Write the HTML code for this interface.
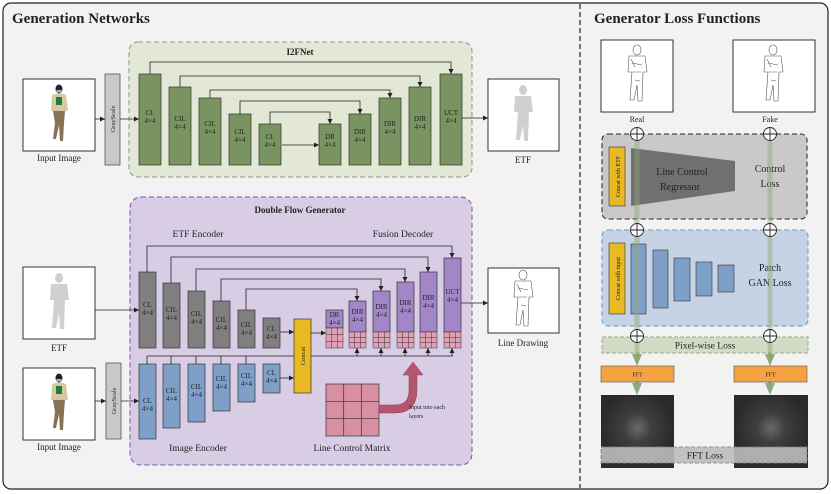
<!DOCTYPE html>
<html><head><meta charset="utf-8"><style>
html,body{margin:0;padding:0;background:#fff}
svg{display:block}
text{font-family:"Liberation Serif",serif;fill:#222}
.b{font-size:7px;text-anchor:middle}
</style></head><body>
<svg width="831" height="494" viewBox="0 0 831 494" xmlns="http://www.w3.org/2000/svg">
<defs>
<marker id="a" markerWidth="6" markerHeight="6" refX="5" refY="3" orient="auto" markerUnits="userSpaceOnUse"><path d="M0,0.5 L5,3 L0,5.5z" fill="#222"/></marker>
<marker id="g" markerWidth="12" markerHeight="10" refX="6" refY="5" orient="auto" markerUnits="userSpaceOnUse"><path d="M0,0 L12,5 L0,10z" fill="#8fa878"/></marker>
<radialGradient id="fft" cx="0.5" cy="0.45" r="0.5"><stop offset="0" stop-color="#6a6a6a"/><stop offset="0.4" stop-color="#3e3e3e"/><stop offset="1" stop-color="#2a2a2a"/></radialGradient>
<g id="person">
<ellipse cx="0" cy="-26" rx="3.5" ry="4.5" fill="#222"/>
<rect x="-2.5" y="-25" width="5" height="2.5" fill="#9fb4c8"/>
<path d="M-7,-20 Q0,-23 7,-20 L9,-4 L-8,-4z" fill="#d8c8a2"/>
<rect x="-3" y="-18" width="6" height="8" fill="#1f7a46"/>
<path d="M-6,-4 L6,-4 L5,8 L4,26 L1,26 L0,10 L-3,24 L-6,24 L-4,8z" fill="#8a7056"/>
</g>
<g id="sil">
<ellipse cx="0" cy="-25" rx="4" ry="5" fill="#d0d0d0"/>
<path d="M-8,-19 L8,-19 L10,-3 L6,-3 L5,26 L1,26 L0,10 L-3,25 L-7,25 L-5,-3 L-9,-3z" fill="#d0d0d0"/>
</g>
<g id="line" fill="none" stroke="#555" stroke-width="0.6">
<ellipse cx="0" cy="-25" rx="4" ry="5"/>
<path d="M-8,-19 L8,-19 L10,-3 L6,-3 L5,26 L1,26 L0,10 L-3,25 L-7,25 L-5,-3 L-9,-3z"/>
<path d="M-5,-12 L5,-10 M-4,-3 L4,-3 M-2,5 L3,6 M-6,-16 L-2,-8"/>
</g>
</defs>

<rect x="3" y="3" width="825" height="486" rx="8" fill="#f2f2f2" stroke="#222" stroke-width="1.2"/>
<line x1="580" y1="4" x2="580" y2="488" stroke="#222" stroke-width="1.2" stroke-dasharray="5,3"/>
<text x="12" y="23" style="font-size:15px;font-weight:bold">Generation Networks</text>
<text x="594" y="23" style="font-size:15px;font-weight:bold">Generator Loss Functions</text>

<!-- I2FNet -->
<rect x="129" y="42" width="343" height="135" rx="9" fill="#e2e7d6" stroke="#8a9a7a" stroke-dasharray="5,3"/>
<text x="300" y="55" style="font-size:9px;font-weight:bold;text-anchor:middle">I2FNet</text>
<rect x="23" y="79" width="72" height="72" fill="#fff" stroke="#333"/>
<use href="#person" x="59" y="115"/>
<text x="59" y="161" style="font-size:9px;text-anchor:middle">Input Image</text>
<rect x="105" y="74" width="15" height="91" fill="#c8c8c8" stroke="#444" stroke-width="0.7"/>
<text transform="translate(115,119) rotate(-90)" style="font-size:6.5px;text-anchor:middle">GrayScale</text>
<line x1="95" y1="119" x2="105" y2="119" stroke="#222" stroke-width="0.8" marker-end="url(#a)"/>
<line x1="120" y1="119" x2="139" y2="119" stroke="#222" stroke-width="0.8" marker-end="url(#a)"/>
<g fill="none" stroke="#222" stroke-width="0.8">
<path d="M150,74 V62 H451 V74" marker-end="url(#a)"/>
<path d="M180,87 V76 H420 V87" marker-end="url(#a)"/>
<path d="M210,98 V90 H390 V98" marker-end="url(#a)"/>
<path d="M240,114 V101 H360 V114" marker-end="url(#a)"/>
<path d="M270,124 V112 H330 V124" marker-end="url(#a)"/>
<path d="M282,145 H319" marker-end="url(#a)"/>
<path d="M462,118 H488" marker-end="url(#a)"/>
</g>
<g fill="#7a9461" stroke="#333" stroke-width="0.7">
<rect x="139" y="74" width="22" height="91"/><rect x="169" y="87" width="22" height="78"/><rect x="199" y="98" width="22" height="67"/><rect x="229" y="114" width="22" height="51"/><rect x="259" y="124" width="22" height="41"/>
<rect x="319" y="124" width="22" height="41"/><rect x="349" y="114" width="22" height="51"/><rect x="379" y="98" width="22" height="67"/><rect x="409" y="87" width="22" height="78"/><rect x="440" y="74" width="22" height="91"/>
</g>
<g>
<text class="b" x="150" y="115">CL</text><text class="b" x="150" y="123">4×4</text>
<text class="b" x="180" y="121">CIL</text><text class="b" x="180" y="129">4×4</text>
<text class="b" x="210" y="126">CIL</text><text class="b" x="210" y="134">4×4</text>
<text class="b" x="240" y="134">CIL</text><text class="b" x="240" y="142">4×4</text>
<text class="b" x="270" y="139">CL</text><text class="b" x="270" y="147">4×4</text>
<text class="b" x="330" y="139">DR</text><text class="b" x="330" y="147">4×4</text>
<text class="b" x="360" y="134">DIR</text><text class="b" x="360" y="142">4×4</text>
<text class="b" x="390" y="126">DIR</text><text class="b" x="390" y="134">4×4</text>
<text class="b" x="420" y="121">DIR</text><text class="b" x="420" y="129">4×4</text>
<text class="b" x="451" y="115">UCT</text><text class="b" x="451" y="123">4×4</text>
</g>
<rect x="488" y="79" width="71" height="72" fill="#fff" stroke="#333"/>
<use href="#sil" x="523" y="115"/>
<text x="523" y="163" style="font-size:9px;text-anchor:middle">ETF</text>

<!-- Double Flow Generator -->
<rect x="130" y="197" width="342" height="268" rx="11" fill="#d9cde6" stroke="#7b4fb0" stroke-dasharray="5,3"/>
<text x="300" y="213" style="font-size:9px;font-weight:bold;text-anchor:middle">Double Flow Generator</text>
<text x="198" y="237" style="font-size:9.5px;text-anchor:middle">ETF Encoder</text>
<text x="403" y="237" style="font-size:9.5px;text-anchor:middle">Fusion Decoder</text>
<text x="198" y="451" style="font-size:9.5px;text-anchor:middle">Image Encoder</text>
<text x="352" y="451" style="font-size:9.5px;text-anchor:middle">Line Control Matrix</text>

<rect x="23" y="267" width="72" height="72" fill="#fff" stroke="#333"/>
<use href="#sil" x="59" y="303"/>
<text x="59" y="351" style="font-size:9px;text-anchor:middle">ETF</text>
<rect x="23" y="368" width="72" height="72" fill="#fff" stroke="#333"/>
<use href="#person" x="59" y="404"/>
<text x="59" y="450" style="font-size:9px;text-anchor:middle">Input Image</text>
<rect x="106" y="363" width="15" height="76" fill="#c8c8c8" stroke="#444" stroke-width="0.7"/>
<text transform="translate(116,401) rotate(-90)" style="font-size:6.5px;text-anchor:middle">GrayScale</text>

<g fill="none" stroke="#222" stroke-width="0.8">
<path d="M95,310 H139" marker-end="url(#a)"/>
<path d="M95,401 H106" marker-end="url(#a)"/>
<path d="M121,401 H139" marker-end="url(#a)"/>
<path d="M147,272 V246 H452 V258" marker-end="url(#a)"/>
<path d="M171,283 V257 H428 V272" marker-end="url(#a)"/>
<path d="M196,291 V269 H405 V282" marker-end="url(#a)"/>
<path d="M221,301 V279 H381 V291" marker-end="url(#a)"/>
<path d="M246,310 V289 H357 V301" marker-end="url(#a)"/>
<path d="M279,332 H294" marker-end="url(#a)"/>
<path d="M279,378 H294" marker-end="url(#a)"/>
<path d="M311,333 H326" marker-end="url(#a)"/>
<path d="M461,303 H488" marker-end="url(#a)"/>
<path d="M147,356 H453 M147,356 V364 M171,356 V364 M196,356 V364 M221,356 V364 M246,356 V364"/>
<path d="M357,356 V348" marker-end="url(#a)"/><path d="M381,356 V348" marker-end="url(#a)"/><path d="M405,356 V348" marker-end="url(#a)"/><path d="M428,356 V348" marker-end="url(#a)"/><path d="M452,356 V348" marker-end="url(#a)"/>
</g>
<g fill="#7f7f7f" stroke="#333" stroke-width="0.7">
<rect x="139" y="272" width="17" height="76"/><rect x="163" y="283" width="17" height="65"/><rect x="188" y="291" width="17" height="57"/><rect x="213" y="301" width="17" height="47"/><rect x="238" y="310" width="17" height="38"/><rect x="263" y="318" width="17" height="30"/>
</g>
<g fill="#7ea0c8" stroke="#333" stroke-width="0.7">
<rect x="139" y="364" width="17" height="75"/><rect x="163" y="364" width="17" height="64"/><rect x="188" y="364" width="17" height="58"/><rect x="213" y="364" width="17" height="47"/><rect x="238" y="364" width="17" height="38"/><rect x="263" y="364" width="17" height="29"/>
</g>
<rect x="294" y="319" width="17" height="74" fill="#e8b923" stroke="#333" stroke-width="0.7"/>
<text transform="translate(305,356) rotate(-90)" style="font-size:6.5px;text-anchor:middle">Concat</text>
<g fill="#a386c8" stroke="#333" stroke-width="0.7">
<rect x="326" y="310" width="17" height="18"/><rect x="349" y="301" width="17" height="31"/><rect x="373" y="291" width="17" height="41"/><rect x="397" y="282" width="17" height="50"/><rect x="420" y="272" width="17" height="60"/><rect x="444" y="258" width="17" height="74"/>
</g>
<g fill="#e2a0b3" stroke="#333" stroke-width="0.5">
<rect x="326" y="328" width="17" height="20"/><rect x="349" y="332" width="17" height="16"/><rect x="373" y="332" width="17" height="16"/><rect x="397" y="332" width="17" height="16"/><rect x="420" y="332" width="17" height="16"/><rect x="444" y="332" width="17" height="16"/>
</g>
<g stroke="#333" stroke-width="0.5">
<path d="M331.7,328V348M337.3,328V348M326,334.7H343M326,341.3H343"/>
<path d="M354.7,332V348M360.3,332V348M349,337.3H366M349,342.7H366"/>
<path d="M378.7,332V348M384.3,332V348M373,337.3H390M373,342.7H390"/>
<path d="M402.7,332V348M408.3,332V348M397,337.3H414M397,342.7H414"/>
<path d="M425.7,332V348M431.3,332V348M420,337.3H437M420,342.7H437"/>
<path d="M449.7,332V348M455.3,332V348M444,337.3H461M444,342.7H461"/>
</g>
<g>
<text class="b" x="147.5" y="307">CL</text><text class="b" x="147.5" y="315">4×4</text>
<text class="b" x="171.5" y="312">CIL</text><text class="b" x="171.5" y="320">4×4</text>
<text class="b" x="196.5" y="316">CIL</text><text class="b" x="196.5" y="324">4×4</text>
<text class="b" x="221.5" y="322">CIL</text><text class="b" x="221.5" y="330">4×4</text>
<text class="b" x="246.5" y="327">CIL</text><text class="b" x="246.5" y="335">4×4</text>
<text class="b" x="271.5" y="331">CL</text><text class="b" x="271.5" y="339">4×4</text>
<text class="b" x="147.5" y="403">CL</text><text class="b" x="147.5" y="411">4×4</text>
<text class="b" x="171.5" y="393">CIL</text><text class="b" x="171.5" y="401">4×4</text>
<text class="b" x="196.5" y="389">CIL</text><text class="b" x="196.5" y="397">4×4</text>
<text class="b" x="221.5" y="381">CIL</text><text class="b" x="221.5" y="389">4×4</text>
<text class="b" x="246.5" y="378">CIL</text><text class="b" x="246.5" y="386">4×4</text>
<text class="b" x="271.5" y="375">CL</text><text class="b" x="271.5" y="383">4×4</text>
<text class="b" x="334.5" y="317">DR</text><text class="b" x="334.5" y="325">4×4</text>
<text class="b" x="357.5" y="314">DIR</text><text class="b" x="357.5" y="322">4×4</text>
<text class="b" x="381.5" y="309">DIR</text><text class="b" x="381.5" y="317">4×4</text>
<text class="b" x="405.5" y="305">DIR</text><text class="b" x="405.5" y="313">4×4</text>
<text class="b" x="428.5" y="300">DIR</text><text class="b" x="428.5" y="308">4×4</text>
<text class="b" x="452.5" y="294">UCT</text><text class="b" x="452.5" y="302">4×4</text>
</g>
<rect x="326" y="384" width="53" height="52" fill="#d88fa3" stroke="#333" stroke-width="0.7"/>
<path d="M343.7,384V436M361.3,384V436M326,401.3H379M326,418.7H379" stroke="#333" stroke-width="0.7"/>
<path d="M379,405 L395,405 Q409,405 409,390 L409,375 L403,375 L413,362 L423,375 L417,375 L417,390 Q417,413 395,413 L379,413z" fill="#b5566f" stroke="#8a3d52" stroke-width="0.5"/>
<text x="409" y="409" style="font-size:6px">Input into each</text>
<text x="409" y="418" style="font-size:6px">layers</text>
<rect x="488" y="268" width="71" height="65" fill="#fff" stroke="#333"/>
<use href="#line" x="523" y="300"/>
<text x="523" y="346" style="font-size:9px;text-anchor:middle">Line Drawing</text>

<!-- right panel -->
<rect x="601" y="40" width="72" height="72" fill="#fff" stroke="#333"/>
<use href="#line" x="637" y="75"/>
<rect x="733" y="40" width="82" height="72" fill="#fff" stroke="#333"/>
<use href="#line" x="773" y="75"/>
<text x="637" y="122" style="font-size:8px;text-anchor:middle">Real</text>
<text x="770" y="122" style="font-size:8px;text-anchor:middle">Fake</text>

<rect x="602" y="134" width="205" height="85" rx="6" fill="#c9c9c9" stroke="#222" stroke-dasharray="5,3"/>
<rect x="609" y="147" width="16" height="59" fill="#e8b923" stroke="#333" stroke-width="0.6"/>
<text transform="translate(620,176.5) rotate(-90)" style="font-size:6px;text-anchor:middle">Concat with ETF</text>
<path d="M631,148 L735,161 L735,191 L631,206z" fill="#707070"/>
<text x="682" y="175" style="font-size:10px;text-anchor:middle">Line Control</text>
<text x="680" y="190" style="font-size:10px;text-anchor:middle">Regressor</text>
<text x="770" y="172" style="font-size:10px;text-anchor:middle">Control</text>
<text x="770" y="187" style="font-size:10px;text-anchor:middle">Loss</text>

<rect x="602" y="230" width="206" height="96" rx="6" fill="#c5d3e5" stroke="#6f94c4" stroke-dasharray="5,3"/>
<rect x="609" y="243" width="16" height="71" fill="#e8b923" stroke="#333" stroke-width="0.6"/>
<text transform="translate(620,278.5) rotate(-90)" style="font-size:6px;text-anchor:middle">Concat with input</text>
<g fill="#7ea0c8" stroke="#333" stroke-width="0.6">
<rect x="631" y="244" width="15" height="70"/><rect x="653" y="250" width="15" height="58"/><rect x="674" y="258" width="16" height="43"/><rect x="696" y="262" width="16" height="34"/><rect x="718" y="265" width="16" height="27"/>
</g>
<text x="770" y="271" style="font-size:10px;text-anchor:middle">Patch</text>
<text x="770" y="286" style="font-size:10px;text-anchor:middle">GAN Loss</text>

<rect x="602" y="337" width="206" height="16" fill="#d2dcc5" stroke="#9aaa8a" stroke-dasharray="4,2"/>
<text x="705" y="348.5" style="font-size:9.5px;text-anchor:middle">Pixel-wise Loss</text>

<g stroke="#8fa878" stroke-width="5" opacity="0.45">
<line x1="637" y1="134" x2="637" y2="358"/><line x1="770" y1="134" x2="770" y2="358"/>
</g>
<g stroke="#8fa878" stroke-width="4">
<line x1="637" y1="353" x2="637" y2="360" marker-end="url(#g)"/><line x1="770" y1="353" x2="770" y2="360" marker-end="url(#g)"/>
<line x1="637" y1="382" x2="637" y2="389" marker-end="url(#g)"/><line x1="770" y1="382" x2="770" y2="389" marker-end="url(#g)"/>
</g>
<g fill="#fff" stroke="#222" stroke-width="0.9">
<circle cx="637" cy="134" r="6.5"/><circle cx="770" cy="134" r="6.5"/>
<circle cx="637" cy="230" r="6.5"/><circle cx="770" cy="230" r="6.5"/>
<circle cx="637" cy="336" r="6.5"/><circle cx="770" cy="336" r="6.5"/>
</g>
<g stroke="#222" stroke-width="0.9">
<path d="M630.5,134H643.5M637,127.5V140.5M763.5,134H776.5M770,127.5V140.5"/>
<path d="M630.5,230H643.5M637,223.5V236.5M763.5,230H776.5M770,223.5V236.5"/>
<path d="M630.5,336H643.5M637,329.5V342.5M763.5,336H776.5M770,329.5V342.5"/>
</g>
<rect x="601" y="366" width="73" height="16" fill="#f4a340" stroke="#555" stroke-width="0.6"/>
<rect x="734" y="366" width="73" height="16" fill="#f4a340" stroke="#555" stroke-width="0.6"/>
<text x="637.5" y="376.5" style="font-size:6px;text-anchor:middle">FFT</text>
<text x="770.5" y="376.5" style="font-size:6px;text-anchor:middle">FFT</text>
<rect x="601" y="395" width="73" height="73" fill="url(#fft)"/>
<rect x="734" y="395" width="74" height="73" fill="url(#fft)"/>
<rect x="601" y="447" width="206" height="16" fill="#bdbdbd" opacity="0.9" stroke="#888" stroke-dasharray="4,2"/>
<text x="705" y="458.5" style="font-size:9.5px;text-anchor:middle">FFT Loss</text>
</svg>
</body></html>
